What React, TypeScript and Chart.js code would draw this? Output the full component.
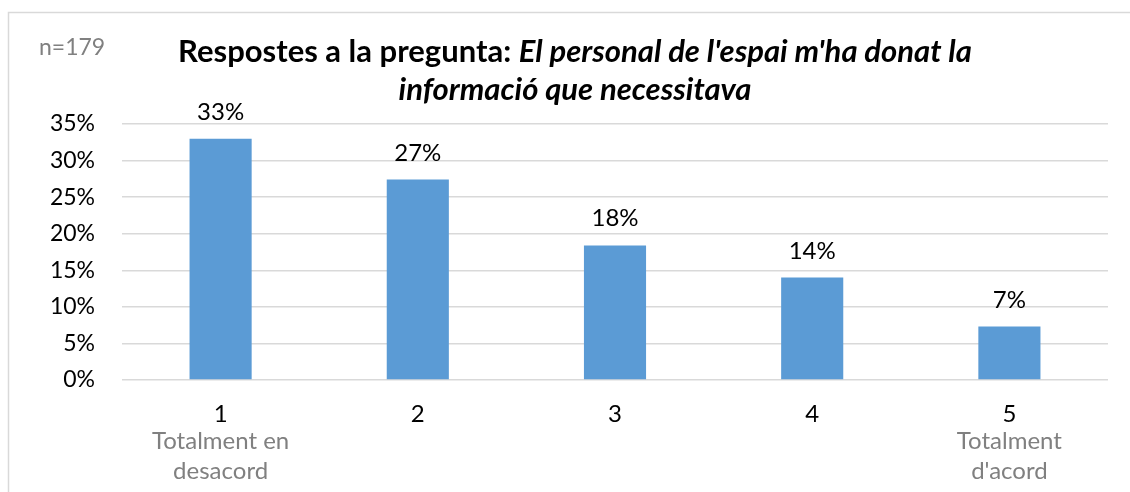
import React, { useEffect, useRef } from "react";
import { Chart, registerables } from "chart.js";

Chart.register(...registerables);

const categories = ["1", "2", "3", "4", "5"];
const subLabels: string[][] = [["Totalment en", "desacord"], [], [], [], ["Totalment", "d'acord"]];
const values = [33.0, 27.4, 18.4, 14.0, 7.3];
const yMin = 0;
const yMax = 35;
const yStep = 5;
const sampleLabel = "n=179";
const titleBold = "Respostes a la pregunta: ";
const titleItalic1 = "El personal de l'espai m'ha donat la";
const titleItalic2 = "informació que necessitava";

const FONT = "Lato, 'Open Sans', sans-serif";

const decorPlugin = {
  id: "decor",
  beforeDraw(chart: any) {
    const ctx = chart.ctx;
    ctx.save();
    ctx.fillStyle = "#ffffff";
    ctx.fillRect(0, 0, chart.width, chart.height);
    ctx.strokeStyle = "#d9d9d9";
    ctx.lineWidth = 1.5;
    ctx.beginPath();
    ctx.moveTo(8.5, chart.height);
    ctx.lineTo(8.5, 12.5);
    ctx.lineTo(chart.width, 12.5);
    ctx.stroke();
    ctx.restore();
  },
  afterDraw(chart: any) {
    const ctx = chart.ctx;
    const xs = chart.scales.x;
    const meta = chart.getDatasetMeta(0);
    ctx.save();
    // n label
    ctx.fillStyle = "#808080";
    ctx.font = `23px ${FONT}`;
    ctx.textAlign = "left";
    ctx.textBaseline = "middle";
    ctx.fillText(sampleLabel, 39, 48);
    // title
    ctx.fillStyle = "#000000";
    ctx.textBaseline = "alphabetic";
    const boldFont = `bold 31px ${FONT}`;
    const italicFont = `italic bold 31px ${FONT}`;
    ctx.font = boldFont;
    const w1 = ctx.measureText(titleBold).width;
    ctx.font = italicFont;
    const w2 = ctx.measureText(titleItalic1).width;
    const w3 = ctx.measureText(titleItalic2).width;
    const cx = 575;
    const x0 = cx - (w1 + w2) / 2;
    ctx.textAlign = "left";
    ctx.font = boldFont;
    ctx.fillText(titleBold, x0, 62);
    ctx.font = italicFont;
    ctx.fillText(titleItalic1, x0 + w1, 62);
    ctx.fillText(titleItalic2, cx - w3 / 2, 100);
    // data labels
    ctx.font = `24px ${FONT}`;
    ctx.textAlign = "center";
    ctx.textBaseline = "alphabetic";
    ctx.fillStyle = "#000000";
    meta.data.forEach((bar: any, i: number) => {
      ctx.fillText(Math.round(values[i]) + "%", bar.x, bar.y - 19);
    });
    // sub labels
    ctx.fillStyle = "#808080";
    ctx.textBaseline = "middle";
    subLabels.forEach((lines, i) => {
      const x = xs.getPixelForValue(i);
      lines.forEach((t, j) => {
        ctx.fillText(t, x, 441 + j * 30);
      });
    });
    ctx.restore();
  },
};

export default function App() {
  const ref = useRef<HTMLCanvasElement | null>(null);
  useEffect(() => {
    if (!ref.current) return;
    const chart = new Chart(ref.current, {
      type: "bar",
      data: {
        labels: categories,
        datasets: [
          {
            data: values,
            backgroundColor: "#5b9bd5",
            borderWidth: 0,
            categoryPercentage: 1,
            barPercentage: 0.315,
          },
        ],
      },
      options: {
        responsive: false,
        animation: false,
        layout: { padding: { left: 0, right: 22, top: 124, bottom: 0 } },
        plugins: {
          legend: { display: false },
          title: { display: false },
          tooltip: { enabled: false },
        },
        scales: {
          x: {
            grid: { display: false, drawTicks: false },
            border: { display: false },
            ticks: {
              color: "#000000",
              font: { family: FONT, size: 24 },
              padding: 20,
            },
            afterFit: (s: any) => {
              s.height = 112;
            },
          },
          y: {
            min: yMin,
            max: yMax,
            grid: { color: "#d9d9d9", lineWidth: 1.5, drawTicks: false },
            border: { display: false },
            ticks: {
              stepSize: yStep,
              color: "#000000",
              font: { family: FONT, size: 23 },
              padding: 27,
              callback: (v: any) => v + "%",
            },
            afterFit: (s: any) => {
              s.width = 122;
            },
          },
        },
      },
      plugins: [decorPlugin],
    });
    return () => chart.destroy();
  }, []);
  return (
    <div style={{ position: "absolute", left: 0, top: 0, width: 1130, height: 492 }}>
      <canvas ref={ref} width={1130} height={492} />
    </div>
  );
}
